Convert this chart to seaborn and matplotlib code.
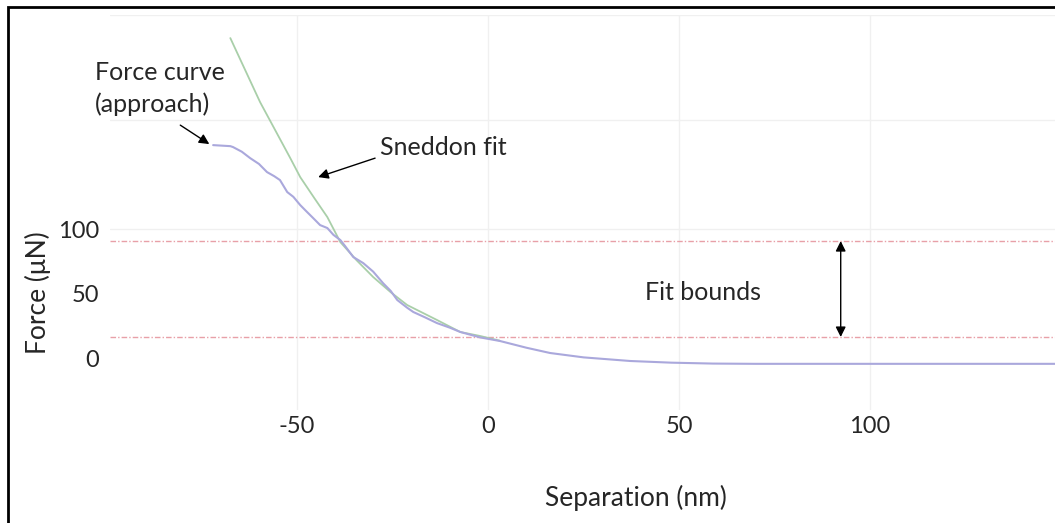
import matplotlib
matplotlib.use("Agg")
import matplotlib.pyplot as plt
from matplotlib.patches import Rectangle
import seaborn as sns
import numpy as np
import pandas as pd

# approach curve (blue)
approach_x = [-72.0, -67.5, -66.8, -64.5, -62.3, -60.0, -57.9, -56.0, -54.5, -52.6,
              -51.0, -49.2, -47.5, -45.8, -44.0, -42.1, -40.5, -38.7, -37.5, -35.3,
              -32.7, -30.1, -27.5, -25.5, -23.8, -21.2, -19.6, -16.5, -13.4, -10.0,
              -7.3, -2.1, 3.1, 10.0, 16.2, 25.0, 37.2, 48.0, 58.9, 70.0, 148.4]
approach_y = [165.1, 164.3, 163.6, 160.0, 155.0, 150.5, 144.2, 141.0, 138.0, 128.7,
              125.0, 118.6, 113.5, 108.5, 103.1, 100.8, 95.5, 91.5, 87.0, 78.3,
              73.6, 67.0, 58.0, 52.0, 45.0, 39.0, 35.7, 31.5, 27.1, 23.5,
              20.2, 16.0, 13.2, 8.0, 3.9, 0.5, -2.3, -3.6, -4.3, -4.5, -4.5]

# Sneddon fit (green)
fit_x = [-67.5, -59.7, -51.8, -49.2, -45.5, -42.1, -38.7, -34.5, -30.1, -25.5,
         -21.2, -13.4, -7.3, -2.1, 3.0]
fit_y = [248.1, 198.4, 155.0, 140.3, 124.0, 109.3, 89.9, 76.0, 62.8, 51.0,
         41.1, 29.5, 20.2, 17.1, 13.5]

fit_bounds = [90.7, 16.3]
x_ticks = [-50, 0, 50, 100]
y_ticks = [0, 50, 100]
y_grid = [100, 184.5, 266]

sns.set_style("white")
plt.rcParams['font.family'] = ['Lato', 'DejaVu Sans']
plt.rcParams['axes.unicode_minus'] = False

fig = plt.figure(figsize=(10.55, 5.23), dpi=100)
ax = fig.add_axes([110 / 1055, 1 - 410 / 523, 945 / 1055, 395 / 523])

df_a = pd.DataFrame({"x": approach_x, "y": approach_y})
df_f = pd.DataFrame({"x": fit_x, "y": fit_y})
sns.lineplot(data=df_f, x="x", y="y", ax=ax, color="#a9cfa9", lw=1.3, sort=False)
sns.lineplot(data=df_a, x="x", y="y", ax=ax, color="#aaa8dc", lw=1.5, sort=False)

for b in fit_bounds:
    ax.axhline(b, color="#e8a0a8", lw=1.0, ls=(0, (4, 1.5, 1, 1.5)), zorder=1)
for g in y_grid:
    ax.axhline(g, color="#f0f0f0", lw=1.0, zorder=0)
for t in x_ticks:
    ax.axvline(t, color="#f0f0f0", lw=1.0, zorder=0)

ax.set_xlim(-99, 148.4)
ax.set_ylim(-40.3, 266)
ax.set_xticks(x_ticks)
ax.set_yticks(y_ticks)
ax.tick_params(axis="x", labelsize=17, pad=4, length=0)
ax.tick_params(axis="y", labelsize=17, pad=8, length=0)
for s in ax.spines.values():
    s.set_visible(False)

ax.set_xlabel("Separation (nm)", fontsize=19)
ax.set_ylabel("Force (μN)", fontsize=19)
ax.xaxis.set_label_coords(0.557, -0.19)
ax.yaxis.set_label_coords(-0.062, 0.296)

arrow = dict(arrowstyle="-|>", color="black", lw=1.0, mutation_scale=15,
             shrinkA=0, shrinkB=0)
ax.text(-102.9, 209, "Force curve\n(approach)", fontsize=18, ha="left",
        va="center", linespacing=1.4)
ax.annotate("", xy=(-73.0, 165.9), xytext=(-80.6, 180.6), arrowprops=arrow)
ax.text(-28.3, 163.6, "Sneddon fit", fontsize=18, ha="left", va="center")
ax.annotate("", xy=(-44.5, 140.3), xytext=(-29.6, 155), arrowprops=arrow)
ax.text(41.1, 51.2, "Fit bounds", fontsize=18, ha="left", va="center")
ax.annotate("", xy=(92.3, fit_bounds[0]), xytext=(92.3, fit_bounds[1]),
            arrowprops=dict(arrow, arrowstyle="<|-|>"))

fig.patches.append(Rectangle((8 / 1055, -0.1), 1.2, 1 - 7 / 523 + 0.1,
                             transform=fig.transFigure, fill=False,
                             edgecolor="black", lw=2))

fig.savefig("out.png", dpi=100)
